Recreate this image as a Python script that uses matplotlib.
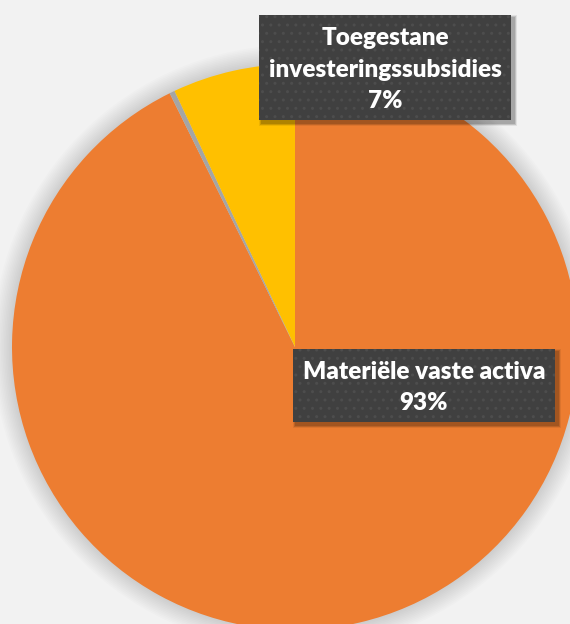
import matplotlib.pyplot as plt
from matplotlib.patches import Rectangle, Circle

# gegevens
categories = ["Materiële vaste activa", "Overig", "Toegestane investeringssubsidies"]
values = [92.7, 0.3, 7.0]
colors = ["#ED7D31", "#A5A5A5", "#FFC000"]

W, H = 570, 624
fig = plt.figure(figsize=(W / 100, H / 100), dpi=100, facecolor="#f2f2f2")
ax = fig.add_axes([0, 0, 1, 1])
ax.set_xlim(0, W)
ax.set_ylim(0, H)
ax.set_aspect("equal")
ax.axis("off")

cx, cy, r = 295, H - 347, 283

# zachte schaduw rond de taart
for i in range(12, 0, -1):
    ax.add_patch(Circle((cx, cy), r + i * 1.6, color="#000000", alpha=0.012, lw=0, zorder=1))

ax.pie(values, colors=colors, startangle=90, counterclock=False,
       center=(cx, cy), radius=r, wedgeprops=dict(linewidth=0))
for w in ax.patches:
    w.set_zorder(max(w.get_zorder(), 2))

ax.set_xlim(0, W)
ax.set_ylim(0, H)

total = sum(values)


def label_box(x0, y0, x1, y1, lines, line_y):
    # schaduw
    for i in range(5, 0, -1):
        ax.add_patch(Rectangle((x0 + 3 - i * 0.6, H - y1 - 3 - i * 0.6),
                               x1 - x0 + i * 1.2, y1 - y0 + i * 1.2,
                               color="black", alpha=0.07, lw=0, zorder=5))
    ax.add_patch(Rectangle((x0, H - y1), x1 - x0, y1 - y0, facecolor="#404040",
                           edgecolor="#4d4d4d", hatch="..", lw=0, zorder=6))
    for txt, ly in zip(lines, line_y):
        ax.text((x0 + x1) / 2, H - ly, txt, ha="center", va="center", color="white",
                fontsize=17.5, fontweight="heavy", family="Lato", zorder=7)


plt.rcParams["hatch.linewidth"] = 1.0
pct = [f"{v / total * 100:.0f}%" for v in values]

label_box(259, 15, 511, 120, ["Toegestane", "investeringssubsidies", pct[2]], [38, 70, 101])
label_box(293, 349, 555, 422, ["Materiële vaste activa", pct[0]], [372, 403])

fig.savefig("out.png", dpi=100, facecolor=fig.get_facecolor())
